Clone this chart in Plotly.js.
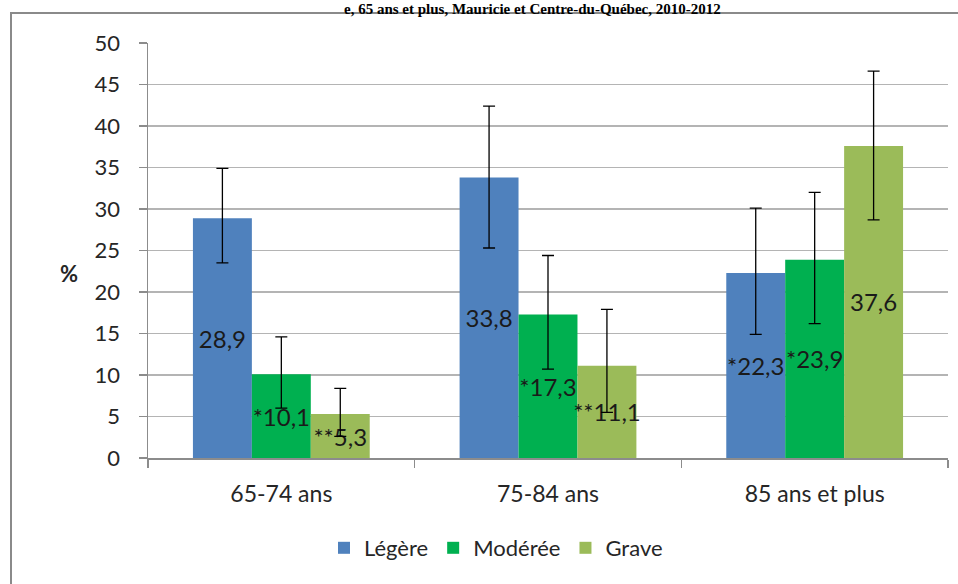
<!DOCTYPE html>
<html>
<head>
<meta charset="utf-8">
<script src="https://cdn.plot.ly/plotly-3.0.1.min.js"></script>
<style>
html,body{margin:0;padding:0;background:#fff;}
#chart{width:958px;height:584px;}
</style>
</head>
<body>
<div id="chart"></div>
<script>
// ---- data ----
const categories = ['65-74 ans', '75-84 ans', '85 ans et plus'];
const seriesNames = ['Légère', 'Modérée', 'Grave'];

const legere  = [28.9, 33.8, 22.3];
const moderee = [10.1, 17.3, 23.9];
const grave   = [5.3, 11.1, 37.6];

const legereLabels  = ['28,9', '33,8', '*22,3'];
const modereeLabels = ['*10,1', '*17,3', '*23,9'];
const graveLabels   = ['**5,3', '**11,1', '37,6'];

// confidence interval bounds
const legereHigh  = [34.9, 42.4, 30.1];
const legereLow   = [23.5, 25.3, 14.9];
const modereeHigh = [14.6, 24.4, 32.0];
const modereeLow  = [6.0, 10.7, 16.2];
const graveHigh   = [8.4, 17.9, 46.6];
const graveLow    = [2.6, 5.5, 28.7];

const yTickVals = [0, 5, 10, 15, 20, 25, 30, 35, 40, 45, 50];
const titleText = 'e, 65 ans et plus, Mauricie et Centre-du-Québec, 2010-2012';
const yLabel = '%';

// ---- styles ----
const colors = ['#4F81BD', '#00B050', '#9BBB59'];
const FONT = 'Lato, "Open Sans", "Liberation Sans", sans-serif';

function makeTrace(name, vals, labels, hi, lo, color) {
  return {
    type: 'bar',
    name: name,
    x: categories,
    y: vals,
    text: labels,
    textposition: 'inside',
    insidetextanchor: 'middle',
    textangle: 0,
    constraintext: 'none',
    cliponaxis: false,
    textfont: {family: FONT, size: 24, color: '#1a1a1a'},
    marker: {color: color, line: {width: 0}},
    error_y: {
      type: 'data',
      symmetric: false,
      array: hi.map((h, i) => h - vals[i]),
      arrayminus: lo.map((l, i) => vals[i] - l),
      color: '#000000',
      thickness: 1.3,
      width: 6
    },
    hoverinfo: 'skip'
  };
}

const data = [
  makeTrace(seriesNames[0], legere, legereLabels, legereHigh, legereLow, colors[0]),
  makeTrace(seriesNames[1], moderee, modereeLabels, modereeHigh, modereeLow, colors[1]),
  makeTrace(seriesNames[2], grave, graveLabels, graveHigh, graveLow, colors[2])
];

const L = 148, R = 10, T = 43, B = 126;
const pw = 958 - L - R, ph = 584 - T - B;
const px2x = p => (p - L) / pw;
const px2y = p => (584 - B - p) / ph;

const layout = {
  width: 958,
  height: 584,
  margin: {l: L, r: R, t: T, b: B, pad: 0},
  paper_bgcolor: '#ffffff',
  plot_bgcolor: '#ffffff',
  font: {family: FONT, color: '#262626'},
  barmode: 'group',
  bargap: 0.337,
  bargroupgap: 0,
  showlegend: true,
  legend: {
    orientation: 'h',
    x: px2x(496), xanchor: 'center',
    y: px2y(548), yanchor: 'middle',
    font: {family: FONT, size: 22, color: '#262626'},
    itemwidth: 30,
    bgcolor: 'rgba(0,0,0,0)'
  },
  xaxis: {
    type: 'category',
    showline: true,
    linecolor: '#8c8c8c',
    linewidth: 1.5,
    ticks: 'outside',
    tickson: 'boundaries',
    ticklen: 8,
    tickcolor: '#8c8c8c',
    tickwidth: 1.5,
    ticklabelstandoff: 15,
    showgrid: false,
    zeroline: false,
    tickfont: {family: FONT, size: 23, color: '#262626'},
    fixedrange: true
  },
  yaxis: {
    range: [0, 50],
    tickvals: yTickVals,
    ticktext: yTickVals.map(String),
    showline: true,
    linecolor: '#8c8c8c',
    linewidth: 1.5,
    ticks: 'outside',
    ticklen: 8,
    tickcolor: '#8c8c8c',
    tickwidth: 1.5,
    ticklabelstandoff: 14,
    showgrid: true,
    gridcolor: '#b4b4b4',
    gridwidth: 1.5,
    zeroline: false,
    tickfont: {family: FONT, size: 22, color: '#262626'},
    fixedrange: true
  },
  shapes: [
    {
      type: 'rect', xref: 'paper', yref: 'paper',
      x0: px2x(11), x1: px2x(1000),
      y0: px2y(700), y1: px2y(13),
      line: {color: '#8a8a8a', width: 2},
      fillcolor: 'rgba(0,0,0,0)',
      layer: 'above'
    }
  ],
  annotations: [
    {
      text: '<b>' + titleText + '</b>',
      xref: 'paper', yref: 'paper',
      x: px2x(532), xanchor: 'center',
      y: px2y(0), yanchor: 'top',
      showarrow: false,
      borderpad: 0,
      font: {family: '"Liberation Serif", "Times New Roman", serif', size: 15, color: '#000000'}
    },
    {
      text: '<b>' + yLabel + '</b>',
      xref: 'paper', yref: 'paper',
      x: px2x(69), xanchor: 'center',
      y: px2y(273), yanchor: 'middle',
      showarrow: false,
      font: {family: FONT, size: 22, color: '#262626'}
    }
  ]
};

Plotly.newPlot('chart', data, layout, {staticPlot: true, displayModeBar: false});
</script>
</body>
</html>
